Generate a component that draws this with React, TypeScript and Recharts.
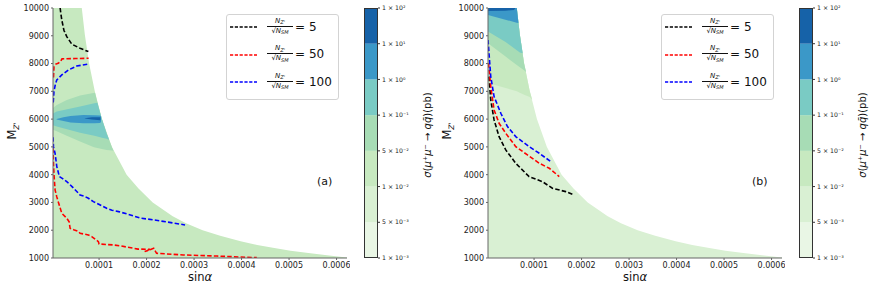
import React from 'react'
import { ComposedChart, Area, Line, XAxis, YAxis, Label, BarChart, Bar } from 'recharts'

const FONT = '"DejaVu Sans", sans-serif'

// colour levels of the cross section, bottom to top
const levelLabels = ['1 × 10⁻³', '5 × 10⁻³', '1 × 10⁻²', '5 × 10⁻²', '1 × 10⁻¹', '1 × 10⁰', '1 × 10¹', '1 × 10²']
const levelColors = ['#e9f6e5', '#d9f0d3', '#c7e9c0', '#a7dcb5', '#7acbc4', '#3b98c8', '#1662a8']

const xTicks = [0.0001, 0.0002, 0.0003, 0.0004, 0.0005, 0.0006]
const yTicks = [1000, 2000, 3000, 4000, 5000, 6000, 7000, 8000, 9000, 10000]
const X_MIN = 0.000003
const X_MAX = 0.000622

const legendValues = ['5', '50', '100']
const curveColors = ['#000000', '#ff0000', '#0000ff']

// allowed region edge: [sinα, upper M_Z']
const boundary: [number, number][] = [
  [0.000003, 10000], [0.0000636, 10000], [0.00007, 9050], [0.000079, 8000], [0.000091, 7000],
  [0.000106, 6000], [0.000127, 5000], [0.000158, 4000], [0.000183, 3500], [0.000213, 3000],
  [0.000255, 2500], [0.000283, 2250], [0.000318, 2000], [0.000355, 1800], [0.000398, 1600],
  [0.000433, 1470], [0.000466, 1370], [0.000503, 1265], [0.000545, 1170], [0.00058, 1100],
  [0.000612, 1040], [0.000622, 1022],
]

// filled levels, [sinα, lower M, upper M]
const aLevel3: [number, number, number][] = [
  [0.000003, 5620, 6400], [0.000011, 5560, 6510], [0.000032, 5400, 6690], [0.00006, 5190, 6850],
  [0.000088, 5000, 6940], [0.0000915, 4980, 6950], [0.000099, 4950, 6420], [0.000106, 4920, 6000],
  [0.000116, 4890, 5480], [0.000127, 4870, 5000], [0.00013, 4860, 4880],
]
const aLevel4: [number, number, number][] = [
  [0.000003, 5780, 6200], [0.000011, 5730, 6270], [0.00006, 5510, 6450], [0.00009, 5400, 6570],
  [0.0000965, 5370, 6590], [0.000106, 5330, 6000], [0.000116, 5290, 5480], [0.000121, 5260, 5270],
]
const aLevel5: [number, number, number][] = [
  [0.0000105, 5990, 6000], [0.000025, 5930, 6070], [0.00004, 5880, 6110], [0.000067, 5850, 6150],
  [0.00009, 5850, 6140], [0.000102, 5860, 6130], [0.000104, 5900, 6100],
]
const aLevel6: [number, number, number][] = [
  [0.00007, 6020, 6030], [0.000085, 5990, 6070], [0.000102, 5960, 6070], [0.000103, 5960, 6070],
]

const bLevel2: [number, number, number][] = [
  [0.000003, 7300, 10000], [0.0000636, 7000, 10000], [0.00007, 6950, 9050], [0.000079, 6880, 8000],
  [0.000091, 6800, 7000], [0.000096, 6700, 6710],
]
const bLevel3: [number, number, number][] = [
  [0.000003, 8730, 10000], [0.00004, 8250, 10000], [0.0000636, 7950, 10000], [0.00007, 7870, 9050],
  [0.000079, 7760, 8000], [0.000083, 7700, 7710],
]
const bLevel4: [number, number, number][] = [
  [0.000003, 9150, 10000], [0.00004, 8780, 10000], [0.0000636, 8480, 10000], [0.00007, 8400, 9050],
  [0.000076, 8370, 8380],
]
const bLevel5: [number, number, number][] = [
  [0.000003, 9750, 10000], [0.0000636, 9470, 10000], [0.000067, 9460, 9480],
]
const bLevel6: [number, number, number][] = [
  [0.000003, 9890, 10000], [0.00004, 9900, 10000], [0.000058, 9930, 10000], [0.00006, 9995, 10000],
]

// significance contours [sinα, M_Z']
const blackA: [number, number][] = [
  [0.000018, 10000], [0.0000195, 9800], [0.0000215, 9570], [0.000026, 9200], [0.000032, 8970],
  [0.0000425, 8700], [0.00006, 8550], [0.0000775, 8430],
]
const redA1: [number, number][] = [
  [0.000004, 7500], [0.000005, 7880], [0.000009, 7980], [0.000014, 8010], [0.000019, 8080],
  [0.000022, 8170], [0.00005, 8180], [0.000078, 8190],
]
const redA2: [number, number][] = [
  [0.000003, 4950], [0.0000042, 4300], [0.0000055, 3900], [0.0000074, 3450], [0.000011, 3200],
  [0.000015, 2970], [0.0000215, 2610], [0.000032, 2430], [0.000037, 2300], [0.000039, 2070],
  [0.000048, 2010], [0.0000564, 1960], [0.00006, 1890], [0.0000775, 1830], [0.0000846, 1770],
  [0.0000985, 1590], [0.0001, 1505], [0.00013, 1470], [0.000144, 1440], [0.000182, 1320],
  [0.000207, 1315], [0.000196, 1230], [0.000215, 1350], [0.000221, 1170], [0.000277, 1110],
  [0.000348, 1070], [0.000432, 1012],
]
const blueA1: [number, number][] = [
  [0.0000035, 6600], [0.000005, 7000], [0.000008, 7250], [0.000011, 7410], [0.0000215, 7590],
  [0.0000354, 7770], [0.000053, 7910], [0.0000775, 7985],
]
const blueA2: [number, number][] = [
  [0.000003, 5350], [0.000004, 5000], [0.0000074, 4770], [0.000011, 4290], [0.0000165, 3930],
  [0.000024, 3850], [0.000032, 3750], [0.0000425, 3580], [0.00005, 3450], [0.00006, 3270],
  [0.000068, 3230], [0.0000775, 3150], [0.000088, 3030], [0.0000952, 2970], [0.000106, 2880],
  [0.000116, 2790], [0.000127, 2720], [0.000141, 2670], [0.000158, 2590], [0.000186, 2440],
  [0.00022, 2360], [0.000256, 2260], [0.000281, 2190],
]
const blackB: [number, number][] = [
  [0.000005, 7530], [0.0000088, 6690], [0.0000158, 5970], [0.0000263, 5370], [0.0000404, 4890],
  [0.0000614, 4410], [0.0000895, 3930], [0.0001175, 3750], [0.0001386, 3510], [0.0001667, 3390],
  [0.0001842, 3270],
]
const redB: [number, number][] = [
  [0.000004, 8010], [0.0000088, 7170], [0.0000158, 6330], [0.0000263, 5850], [0.0000404, 5490],
  [0.0000614, 5010], [0.000086, 4710], [0.000111, 4410], [0.000132, 4230], [0.000153, 3930],
]
const blueB: [number, number][] = [
  [0.000003, 8850], [0.0000088, 7530], [0.0000158, 6810], [0.00003, 6210], [0.000044, 5730],
  [0.0000614, 5370], [0.0000895, 5010], [0.000111, 4770], [0.0001352, 4470],
]

type Region = { color: string; pts: [number, number, number][] }
type Curve = { color: string; pts: [number, number][] }

const fullRegion = (color: string): Region => ({
  color,
  pts: boundary.map(([x, m]) => [x, 1000, m]),
})

const regionsA: Region[] = [
  fullRegion(levelColors[2]),
  { color: levelColors[3], pts: aLevel3 },
  { color: levelColors[4], pts: aLevel4 },
  { color: levelColors[5], pts: aLevel5 },
  { color: levelColors[6], pts: aLevel6 },
]
const regionsB: Region[] = [
  fullRegion(levelColors[1]),
  { color: levelColors[2], pts: bLevel2 },
  { color: levelColors[3], pts: bLevel3 },
  { color: levelColors[4], pts: bLevel4 },
  { color: levelColors[5], pts: bLevel5 },
  { color: levelColors[6], pts: bLevel6 },
]
const curvesA: Curve[] = [
  { color: curveColors[0], pts: blackA },
  { color: curveColors[1], pts: redA1 },
  { color: curveColors[1], pts: redA2 },
  { color: curveColors[2], pts: blueA1 },
  { color: curveColors[2], pts: blueA2 },
]
const curvesB: Curve[] = [
  { color: curveColors[0], pts: blackB },
  { color: curveColors[1], pts: redB },
  { color: curveColors[2], pts: blueB },
]

const tickStyle = { fontSize: 8, fill: '#222', fontFamily: FONT }
const DASH = '4.5 2.2'

function Panel({ left, regions, curves, tag }: { left: number; regions: Region[]; curves: Curve[]; tag: string }) {
  return (
    <div style={{ position: 'absolute', left, top: 0 }}>
      <ComposedChart width={350} height={289} margin={{ top: 8, right: 3, bottom: 0, left: 0 }}>
        <XAxis
          type="number"
          dataKey="x"
          domain={[X_MIN, X_MAX]}
          allowDataOverflow
          ticks={xTicks}
          tickFormatter={(v: number) => v.toFixed(4)}
          height={31}
          tickSize={2}
          tick={tickStyle}
          stroke="#666"
        >
          <Label
            content={({ viewBox }: any) => (
              <text x={viewBox.x + viewBox.width / 2} y={viewBox.y + 22.5} textAnchor="middle" fontSize={11.5} fontFamily={FONT} fill="#111">
                sin<tspan fontStyle="italic">α</tspan>
              </text>
            )}
          />
        </XAxis>
        <XAxis xAxisId="top" orientation="top" type="number" domain={[0, 1]} height={0} tick={false} tickLine={false} stroke="#666" />
        <YAxis
          type="number"
          domain={[1000, 10000]}
          allowDataOverflow
          ticks={yTicks}
          width={53}
          tickSize={2}
          tick={tickStyle}
          stroke="#666"
        >
          <Label
            content={({ viewBox }: any) => (
              <text transform={`translate(${viewBox.x + 16}, ${viewBox.y + viewBox.height / 2 - 2}) rotate(-90)`} textAnchor="middle" fontSize={11.5} fontFamily={FONT} fill="#111">
                M<tspan fontSize={7.5} fontStyle="italic" dy={3}>Z'</tspan>
              </text>
            )}
          />
        </YAxis>
        <YAxis yAxisId="right" orientation="right" type="number" domain={[0, 1]} width={0} tick={false} tickLine={false} stroke="#666" />
        {regions.map((r, i) => (
          <Area
            key={'r' + i}
            data={r.pts.map(([x, lo, hi]) => ({ x, r: [lo, hi] }))}
            dataKey="r"
            type="linear"
            fill={r.color}
            fillOpacity={1}
            stroke="none"
            dot={false}
            activeDot={false}
            isAnimationActive={false}
          />
        ))}
        {curves.map((c, i) => (
          <Line
            key={'c' + i}
            data={c.pts.map(([x, m]) => ({ x, m }))}
            dataKey="m"
            type="linear"
            stroke={c.color}
            strokeWidth={1.6}
            strokeDasharray={DASH}
            dot={false}
            activeDot={false}
            isAnimationActive={false}
          />
        ))}
      </ComposedChart>
      <div style={{ position: 'absolute', left: 317, top: 175.5, fontSize: 11, lineHeight: '11px', fontFamily: FONT, color: '#111' }}>{tag}</div>
      <LegendBox />
    </div>
  )
}

function LegendBox() {
  return (
    <div
      style={{
        position: 'absolute', left: 226, top: 14, width: 113, height: 86, boxSizing: 'border-box',
        border: '1px solid #d3d3d3', borderRadius: 3, background: 'rgba(255,255,255,0.85)', fontFamily: FONT, color: '#111',
      }}
    >
      {legendValues.map((v, i) => {
        const cy = 12.3 + 27.4 * i
        return (
          <React.Fragment key={v}>
            <svg style={{ position: 'absolute', left: 3, top: cy - 2 }} width={27} height={4}>
              <line x1={0} x2={27} y1={2} y2={2} stroke={curveColors[i]} strokeWidth={1.4} strokeDasharray="3.2 1.6" />
            </svg>
            <div style={{ position: 'absolute', left: 40, top: cy - 10.5, width: 26, display: 'flex', flexDirection: 'column', alignItems: 'center', fontSize: 7, lineHeight: '9px' }}>
              <div>
                <span style={{ fontStyle: 'italic' }}>N</span>
                <span style={{ fontSize: 5, fontStyle: 'italic', position: 'relative', top: 1.5 }}>Z'</span>
              </div>
              <div style={{ width: 26, borderTop: '0.9px solid #111' }} />
              <div>
                √<span style={{ borderTop: '0.7px solid #111' }}><span style={{ fontStyle: 'italic' }}>N</span>
                <span style={{ fontSize: 5, fontStyle: 'italic', position: 'relative', top: 1.5 }}>SM</span></span>
              </div>
            </div>
            <div style={{ position: 'absolute', left: 68, top: cy - 7.5, fontSize: 12, lineHeight: '14px', whiteSpace: 'nowrap' }}>= {v}</div>
          </React.Fragment>
        )
      })}
    </div>
  )
}

function ColorBar({ left }: { left: number }) {
  // one column split into equal colour bands
  const bands = [Object.fromEntries(levelColors.map((_, i) => ['b' + i, 1]))]
  return (
    <div style={{ position: 'absolute', left, top: 0 }}>
      <BarChart width={72} height={289} data={bands} margin={{ top: 8, right: 0, bottom: 31, left: 0 }} barCategoryGap={0}>
        <XAxis hide />
        <YAxis
          orientation="right"
          type="number"
          domain={[0, levelColors.length]}
          ticks={levelLabels.map((_, i) => i)}
          tickFormatter={(i: number) => levelLabels[i]}
          width={58}
          tickSize={2}
          axisLine={false}
          tick={{ fontSize: 6.2, fill: '#222', fontFamily: FONT }}
          stroke="#333"
        >
          <Label
            content={({ viewBox }: any) => (
              <text transform={`translate(${viewBox.x + 53}, ${viewBox.y + viewBox.height / 2 + 2}) rotate(-90)`} textAnchor="middle" fontSize={10} fontFamily={FONT} fill="#111">
                <tspan fontStyle="italic">σ</tspan>(<tspan fontStyle="italic">μ</tspan>⁺<tspan fontStyle="italic">μ</tspan>⁻ → <tspan fontStyle="italic">q</tspan><tspan fontStyle="italic">q̄</tspan>)(pb)
              </text>
            )}
          />
        </YAxis>
        {levelColors.map((c, i) => (
          <Bar key={c} dataKey={'b' + i} stackId="bar" fill={c} isAnimationActive={false} />
        ))}
      </BarChart>
      <div style={{ position: 'absolute', left: 0, top: 8, width: 14, height: 250, boxSizing: 'border-box', border: '0.8px solid #333' }} />
    </div>
  )
}

export default function App() {
  return (
    <div style={{ position: 'absolute', left: 0, top: 0, width: 872, height: 289, overflow: 'hidden', background: '#fff', fontFamily: FONT }}>
      <Panel left={0} regions={regionsA} curves={curvesA} tag="(a)" />
      <ColorBar left={364} />
      <Panel left={435} regions={regionsB} curves={curvesB} tag="(b)" />
      <ColorBar left={799} />
    </div>
  )
}
